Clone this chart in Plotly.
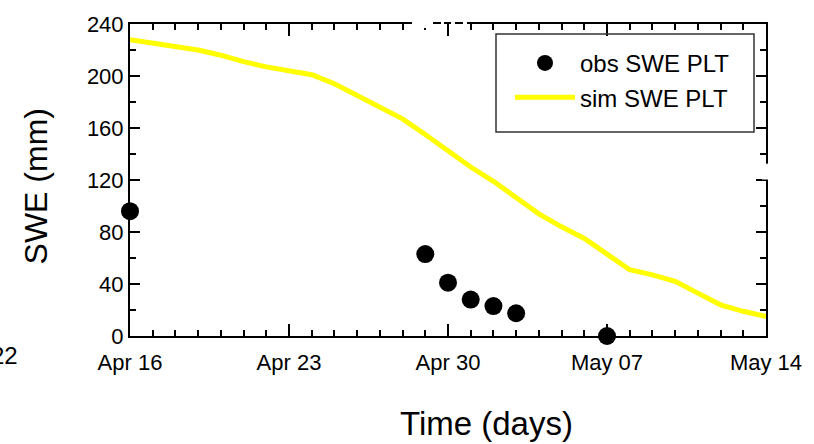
import plotly.graph_objects as go
import pandas as pd

# Observed SWE (mm)
obs_dates = ["2010-04-16", "2010-04-29", "2010-04-30", "2010-05-01",
             "2010-05-02", "2010-05-03", "2010-05-07"]
obs_swe = [96, 63, 41, 28, 23, 17.5, 0]

# Simulated SWE (mm), daily
sim_dates = [d.strftime("%Y-%m-%d") for d in pd.date_range("2010-04-16", "2010-05-14", freq="D")]
sim_swe = [228, 225.5, 223, 220, 216, 211, 207, 204, 201, 194, 185, 177, 167, 155,
           142, 130, 119, 107, 94, 84, 75, 63, 51, 47, 42, 33, 24, 19, 15]

x_ticks = ["2010-04-16", "2010-04-23", "2010-04-30", "2010-05-07", "2010-05-14"]
x_ticklabels = ["Apr 16", "Apr 23", "Apr 30", "May 07", "May 14"]

FONT = "Liberation Sans, Arial, sans-serif"
L, R, T, B = 130, 766, 21, 336
PW, PH = R - L, B - T


def px(x):
    return (x - L) / PW


def py(y):
    return (B - y) / PH


fig = go.Figure()
fig.add_trace(go.Scatter(
    x=obs_dates, y=obs_swe, mode="markers", name="obs SWE PLT",
    marker=dict(color="black", size=18, line=dict(width=0)),
    cliponaxis=False,
))
fig.add_trace(go.Scatter(
    x=sim_dates, y=sim_swe, mode="lines", name="sim SWE PLT",
    line=dict(color="#FFFF00", width=5),
    cliponaxis=False,
))

fig.update_layout(
    width=814, height=444,
    margin=dict(l=L, r=814 - R, t=T, b=444 - B),
    paper_bgcolor="white", plot_bgcolor="white",
    font=dict(family=FONT, size=22, color="black"),
    showlegend=True,
    legend=dict(
        x=px(510), y=py(38), xanchor="left", yanchor="top",
        bgcolor="rgba(0,0,0,0)", borderwidth=0,
        font=dict(size=24), itemwidth=60,
        tracegroupgap=0,
    ),
    xaxis=dict(
        type="date",
        range=["2010-04-16", "2010-05-14"],
        tickmode="array", tickvals=x_ticks, ticktext=x_ticklabels,
        ticks="inside", ticklen=12, tickwidth=1.5, tickcolor="black",
        minor=dict(ticks="inside", ticklen=6, tickwidth=1.5, tickcolor="black",
                   dtick=86400000, tick0="2010-04-16", showgrid=False),
        showline=True, linecolor="black", linewidth=2, mirror="ticks",
        showgrid=False, zeroline=False,
        tickfont=dict(size=22), ticklabelstandoff=6,
    ),
    yaxis=dict(
        range=[0, 240], tickmode="linear", tick0=0, dtick=40,
        ticks="inside", ticklen=10, tickwidth=1.5, tickcolor="black",
        minor=dict(ticks="inside", ticklen=6, tickwidth=1.5, tickcolor="black",
                   dtick=20, showgrid=False),
        showline=True, linecolor="black", linewidth=2, mirror="ticks",
        showgrid=False, zeroline=False,
        tickfont=dict(size=22),
    ),
)

# Axis titles
fig.add_annotation(text="Time (days)", xref="paper", yref="paper",
                   x=px(486), y=py(424), xanchor="center", yanchor="middle",
                   showarrow=False, font=dict(size=33))
fig.add_annotation(text="SWE (mm)", xref="paper", yref="paper",
                   x=px(36), y=py(185), xanchor="center", yanchor="middle",
                   textangle=-90, showarrow=False, font=dict(size=32))

# Legend frame
fig.add_shape(type="rect", xref="paper", yref="paper", layer="above",
              x0=px(496), x1=px(754), y0=py(130), y1=py(31),
              line=dict(color="#333333", width=1.5), fillcolor="rgba(0,0,0,0)")

# Fragment of clipped text at the lower left
fig.add_annotation(text="22", xref="paper", yref="paper",
                   x=px(20), y=py(356),
                   xanchor="right", yanchor="middle", showarrow=False,
                   font=dict(size=24, color="black"))

# White gaps over the frame lines (artefacts in the reference)
gaps_top = [(412, 433), (441, 444), (451, 455), (463, 467)]
for a, b in gaps_top:
    fig.add_shape(type="rect", xref="paper", yref="paper", layer="above",
                  x0=px(a), x1=px(b), y0=py(25), y1=py(17),
                  fillcolor="white", line=dict(width=0))
fig.add_shape(type="rect", xref="paper", yref="paper", layer="above",
              x0=px(762), x1=px(770), y0=py(178), y1=py(162),
              fillcolor="white", line=dict(width=0))

fig.write_html("out.html")
